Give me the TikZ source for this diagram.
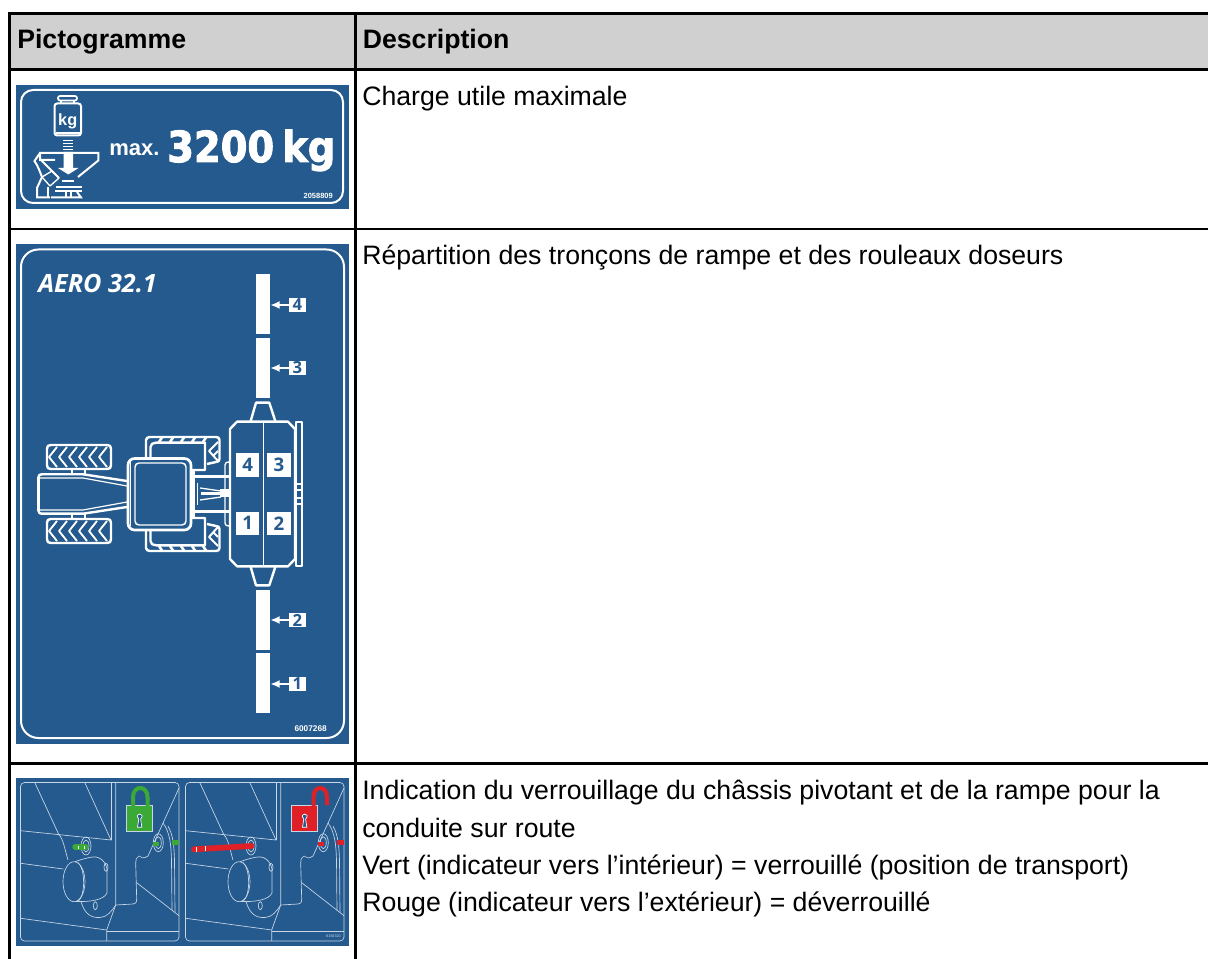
\documentclass[tikz,border=0pt]{standalone}
\usepackage{fontspec}
\usepackage{xcolor}
\usepackage{tikz}
\usetikzlibrary{arrows.meta}
\setmainfont{Liberation Sans}
\newfontfamily\signfont[FakeStretch=0.9,BoldFeatures={FakeBold=2.2}]{DejaVu Sans}
\newfontfamily\aerofont{Open Sans}
\definecolor{signblue}{RGB}{37,90,142}
\definecolor{headgrey}{RGB}{208,208,208}
\definecolor{lockgreen}{RGB}{59,169,53}
\definecolor{lockred}{RGB}{224,32,39}
\definecolor{thinline}{RGB}{200,214,230}
\tikzset{
  rule/.style={line width=1.9pt},
  sign/.style={fill=signblue},
  trim/.style={draw=white,line width=1.3pt,line join=round},
  plate/.style={draw=white,line width=1.8pt,line join=round},
  signedge/.style={draw=white,line width=1.5pt},
  fine/.style={draw=thinline,line width=0.5pt},
  celltext/.style={anchor=base west,inner sep=0pt,font=\fontsize{20}{24}\selectfont},
  headtext/.style={celltext,font=\fontsize{20}{24}\selectfont\bfseries},
  rampbar/.style={fill=white,inner sep=0pt,minimum width=10.5pt,minimum height=45pt},
  tagbox/.style={fill=white,text=signblue,inner sep=0pt,minimum width=12.75pt,minimum height=10.5pt,font=\fontsize{12.5}{12}\selectfont\bfseries\aerofont},
  zonebox/.style={fill=white,text=signblue,inner sep=0pt,minimum size=17.5pt,font=\fontsize{14}{14}\selectfont\bfseries\aerofont},
  tagarrow/.style={white,line width=1.3pt,-{Latex[length=7pt,width=6pt]}},
}
% one half of the tractor, the other one is its mirror image
\newcommand{\tractorhalf}{
%Front wheel
\draw [plate] (47,449) .. controls (47,446) and (48,445) .. (51,445) -- (107,445) .. controls (110,445) and (111,446) .. (111,449) -- (111,465) .. controls (111,468) and (110,469) .. (107,469) -- (51,469) .. controls (48,469) and (47,468) .. (47,465) -- cycle ;
\foreach \x in {57,67,77,87,97,107}
  \draw [trim,line width=1.4pt] (\x,447) -- (\x-8,457) -- (\x,467) ;
\draw [plate] (71.7,469) -- (71.7,475) (85,469) -- (85,475) ;
%Hood
\draw [plate] (38.5,494) -- (38.5,477) .. controls (38.5,475) and (40,474.3) .. (42,474.3) -- (83,474.3) -- (127,481) ;
\draw [trim,line width=0.9pt] (40,478) -- (83,478) -- (127,486) ;
%Rear wheel
\draw [plate] (146,457) -- (146,440) .. controls (146,438) and (148,437) .. (150,437) -- (216,437) .. controls (218,437) and (219.5,438) .. (219.5,440) -- (219.5,459) .. controls (219.5,461) and (218,462) .. (216,462) -- (207,464) ;
\draw [plate] (150.5,457) -- (150.5,447) .. controls (150.5,444) and (153,442.7) .. (156,442.7) -- (205,442.7) -- (205,470) -- (191,470) ;
\foreach \x in {162,173,184,195,206}
  \draw [trim,line width=1.9pt] (\x,437.5) -- (\x-3,442) ;
\draw [trim,line width=1.5pt] (218,442) -- (209,451) -- (218,461) (218,451) -- (214,455) ;
%Linkage
\draw [white,line width=2pt] (191,476.7) -- (230,476.7) ;
\draw [trim,line width=1pt] (200,488) -- (221,491) ;
\draw [plate] (193.5,470) -- (193.5,494) ;
\draw [trim,line width=1pt] (197.5,483) -- (197.5,494) ;
\draw [trim,line width=1pt] (225,494) -- (225,465) .. controls (225,463) and (226,462) .. (230,462) ;
%Implement body
\draw [plate] (230,494) -- (230,429) -- (237,421.7) -- (288,421.7) -- (295,429) -- (295,494) ;
\draw [plate] (250.7,421) -- (256,402.7) -- (269.3,402.7) -- (275.3,421) ;
\draw [plate] (296,494) -- (296,422) -- (302,422) -- (302,494) ;
\draw [trim,line width=1pt] (296,484) -- (302,484) (296,490) -- (302,490) ;
}
% shapes shared by both halves of the third sign
\newcommand{\lockpanel}[1]{
\draw [fine,rounded corners=3pt] (20.5,782.5) rectangle (179,941) ;
\draw [fine] (35,783) -- (59,835) .. controls (63,838) and (65,850) .. (68,860) ;
\draw [fine] (85,783) -- (111,840) -- (20.7,830.7) ;
\draw [fine] (20.7,863.3) -- (63.3,869) ;
\draw [fine] (111.7,783) -- (111.7,840) ;
\draw [fine] (115.7,783) -- (115.7,905) -- (106.7,930) -- (106.7,941) ;
\draw [fine] (20.7,918.3) -- (106.7,930) ;
\draw [fine] (106.7,931) -- (179,931) ;
\draw [fine] (179,788) -- (148,856) .. controls (144,859) and (141,858) .. (139,856) .. controls (136,857) and (135.7,860) .. (135.7,863) -- (136.7,899) .. controls (136.7,903) and (135,904) .. (133,904) -- (115.7,905) ;
\draw [fine] (136.7,882.7) -- (179,915.7) ;
\draw [fine] (163,823) .. controls (170,832) and (171,845) .. (171.5,860) -- (172,910) ;
\draw [fine] (168,826) .. controls (173,835) and (174,845) .. (174.5,860) -- (175,912) ;
%Cylinder
\draw [fine] (74,881.7) ellipse (11 and 20) ;
\draw [fine] (75,861.7) .. controls (80,860) and (85,858) .. (93,857) .. controls (102,856) and (107,865) .. (107,870) -- (107,893) .. controls (104,900) and (90,902) .. (76,901.5) ;
\draw [fine] (78,862.5) .. controls (85,868) and (86,895) .. (78,901.5) ;
\draw [fine] (81,901.7) .. controls (85,915) and (92,918) .. (100,917.5) .. controls (107,917) and (111,912) .. (115.7,905) ;
\draw [fine] (106,867.3) ellipse (2 and 4) ;
\draw [fine] (95.3,905.7) ellipse (2 and 4) ;
%Pin holes
\draw [fine] (86,846) ellipse (5 and 9) (86,846) ellipse (3 and 6) ;
\draw [fine] (158.3,842.7) ellipse (5 and 9) (158.3,842.7) ellipse (3 and 6) ;
%Indicators
\fill [#1] (153.3,842) -- (159.3,842) -- (159.3,846) -- (153.3,846) -- cycle ;
\fill [#1] (172.3,840) rectangle (179,845) ;
%Padlock body
\draw [fill=#1,draw=thinline,line width=0.4pt] (126.7,805.7) rectangle (152.7,831.3) ;
\draw [fill=signblue,draw=white,line width=0.5pt] (137.5,827.3) -- (138.8,819) .. controls (136,816) and (137.5,814) .. (139.7,814) .. controls (142,814) and (143.4,816) .. (140.6,819) -- (141.9,827.3) -- cycle ;
}
\begin{document}
\begin{tikzpicture}[x=0.75pt,y=0.75pt,yscale=-1,xscale=1]
\useasboundingbox (0,0) rectangle (1208,959);
% Table
\fill [headgrey] (9.5,13.5) rectangle (1208,69.5) ;
\draw [rule] (1208,13.5) -- (9.5,13.5) -- (9.5,959) ;
\draw [rule] (355.5,13.5) -- (355.5,959) ;
\draw [rule] (9.5,69.5) -- (1208,69.5) ;
\draw [rule] (9.5,229) -- (1208,229) ;
\draw [rule] (9.5,763.5) -- (1208,763.5) ;
% Text Node
\draw (17,48.5) node (pictohead) [headtext] {Pictogramme};
% Text Node
\draw (362.5,48.5) node (deschead) [headtext] {Description};
% Text Node
\draw (362,106) node (chargetext) [celltext] {Charge utile maximale};
% Text Node
\draw (362,264.5) node (rampetext) [celltext] {Répartition des tronçons de rampe et des rouleaux doseurs};
% Text Node
\draw (362,799.5) node (lockone) [celltext] {Indication du verrouillage du châssis pivotant et de la rampe pour la};
% Text Node
\draw (362,837) node (locktwo) [celltext] {conduite sur route};
% Text Node
\draw (362,874) node (lockthree) [celltext] {Vert (indicateur vers l’intérieur) = verrouillé (position de transport)};
% Text Node
\draw (362,911) node (lockfour) [celltext] {Rouge (indicateur vers l’extérieur) = déverrouillé};

% First sign
\fill [sign] (16,85) rectangle (349,209) ;
\draw [signedge,rounded corners=9pt] (21,90) rectangle (343,203) ;
%Weight
\draw [trim,fill=signblue,rounded corners=1.5pt] (58,96) rectangle (77,100.5) ;
\draw [trim] (61,100.5) -- (61,103.5) (74,100.5) -- (74,103.5) ;
\draw [signedge,rounded corners=2pt] (54.5,103.5) rectangle (81,135.5) ;
\draw [trim,line width=0.8pt] (56,133) -- (80,133) ;
\draw (67.7,125.5) node (kgweight) [anchor=base,inner sep=0pt,white,font=\fontsize{12.2}{13}\selectfont\bfseries] {kg};
%Load arrow
\foreach \y in {140.5,143.5,146.5,149.5}
  \draw [white,line width=1.4pt] (63.3,\y) -- (73.3,\y) ;
\fill [white] (63.5,152) -- (73,152) -- (73,168) -- (78.5,168) -- (68.3,174.5) -- (58,168) -- (63.5,168) -- cycle ;
%Hopper
\draw [signedge] (55,160) -- (40,160) -- (40,153) -- (98.3,153) -- (98.3,160.5) -- (78,177) ;
\draw [signedge] (41,160) -- (59,178) ;
\draw [signedge] (62,181.5) -- (74,181.5) ;
\draw [signedge] (56,187) -- (82,187) ;
\draw [signedge] (55,191) -- (82,191) ;
\draw [signedge] (51,197.5) -- (81,197.5) -- (77,192) ;
\draw [trim,line width=1pt] (66,192) -- (66,197) (71,192) -- (71,197) ;
\draw [signedge] (40,153) -- (34.5,161) .. controls (38,166) and (40,172) .. (42,177) -- (37,188) -- (37,197.5) -- (50,197.5) ;
\draw [trim,line width=1pt] (42,177) -- (52,171) -- (59,178) -- (50,186) -- cycle ;
\draw [trim,line width=1pt] (48,197) -- (48,187) ;
% Text Node
\draw (109,156) node (maxtext) [anchor=base west,inner sep=0pt,white,font=\fontsize{16.5}{17}\selectfont\bfseries] {max.};
% Text Node
\draw (167,162) node (loadtext) [anchor=base west,inner sep=0pt,white,font=\fontsize{32}{33}\selectfont\bfseries\signfont] {3200};
% Text Node
\draw (282,162) node (kgtext) [anchor=base west,inner sep=0pt,white,font=\fontsize{32}{33}\selectfont\bfseries\signfont] {kg};
% Text Node
\draw (333,198.7) node (signone) [anchor=base east,inner sep=0pt,white,font=\fontsize{5.6}{6}\selectfont\bfseries] {2058809};

% Second sign
\fill [sign] (16,244) rectangle (349,744) ;
\draw [signedge,rounded corners=13pt] (21,249.5) rectangle (344,738) ;
% Text Node
\draw (38,292.7) node (aerotext) [anchor=base west,inner sep=0pt,white,font=\fontsize{18.9}{19}\selectfont\bfseries\itshape\aerofont] {AERO 32.1};
% Text Node
\draw (327,731) node (signtwo) [anchor=base east,inner sep=0pt,white,font=\fontsize{6.2}{7}\selectfont\bfseries] {6007268};
%Ramp sections
\draw (263,304) node (barfour) [rampbar] {};
\draw (263,368) node (barthree) [rampbar] {};
\draw (263,620) node (bartwo) [rampbar] {};
\draw (263,683) node (barone) [rampbar] {};
\draw (297.5,305) node (tagfour) [tagbox] {4};
\draw (297.5,368) node (tagthree) [tagbox] {3};
\draw (297.5,620) node (tagtwo) [tagbox] {2};
\draw (297.5,684) node (tagone) [tagbox] {1};
\draw [tagarrow] (tagfour.west) -- (barfour.east |- tagfour.west) ;
\draw [tagarrow] (tagthree.west) -- (barthree.east |- tagthree.west) ;
\draw [tagarrow] (tagtwo.west) -- (bartwo.east |- tagtwo.west) ;
\draw [tagarrow] (tagone.west) -- (barone.east |- tagone.west) ;
%Tractor
\tractorhalf
\begin{scope}[shift={(0,988)},yscale=-1]
\tractorhalf
\end{scope}
\draw [plate] (38.5,477) -- (38.5,511) ;
\draw [plate,line width=2pt,rounded corners=5pt] (128,458.5) rectangle (191,530) ;
\draw [trim,line width=1.1pt,rounded corners=3pt] (135,463) rectangle (186,525) ;
\draw [trim,line width=0.8pt] (130.5,462) -- (130.5,526) ;
\draw [white,line width=2.4pt] (201,493.5) -- (220,493.5) ;
\fill [white] (220,489.5) rectangle (230,497.5) ;
\draw [plate] (230,430) -- (230,558) ;
\draw [plate] (295,430) -- (295,558) ;
\draw [plate] (302,430) -- (302,558) ;
\draw [trim,line width=0.9pt] (263.5,422) -- (263.5,566) ;
\draw (247.7,465) node (zonefour) [zonebox] {4};
\draw (279,465) node (zonethree) [zonebox] {3};
\draw (247.7,523.3) node (zoneone) [zonebox] {1};
\draw (279,523.3) node (zonetwo) [zonebox] {2};

% Third sign
\fill [sign] (16,778) rectangle (349,946) ;
\begin{scope}
\lockpanel{lockgreen}
\draw [lockgreen,line width=3pt] (133,806) -- (133,797) .. controls (133,785) and (147.5,785) .. (147.5,797) -- (147.5,806) ;
\draw [lockgreen,line width=4pt,line cap=round] (75,847) -- (86,847) ;
\draw [white,line width=0.4pt] (78,845.5) -- (78,848.5) (84,845.5) -- (84,848.5) ;
\end{scope}
\begin{scope}[shift={(165,0)}]
\lockpanel{lockred}
\draw [lockred,line width=3pt] (148.5,806) -- (148.5,797) .. controls (148.5,785) and (162,785) .. (162,797) -- (162,805) ;
\draw [lockred,line width=4.3pt,line cap=round] (29,849.3) -- (86.5,846) ;
\draw [white,line width=0.4pt] (31,846.8) -- (31,851.5) (40,846.3) -- (40,851) ;
\end{scope}
% Text Node
\draw (341,937) node (signthree) [anchor=base east,inner sep=0pt,thinline,font=\fontsize{2.8}{3}\selectfont] {8158320};
\end{tikzpicture}
\end{document}
